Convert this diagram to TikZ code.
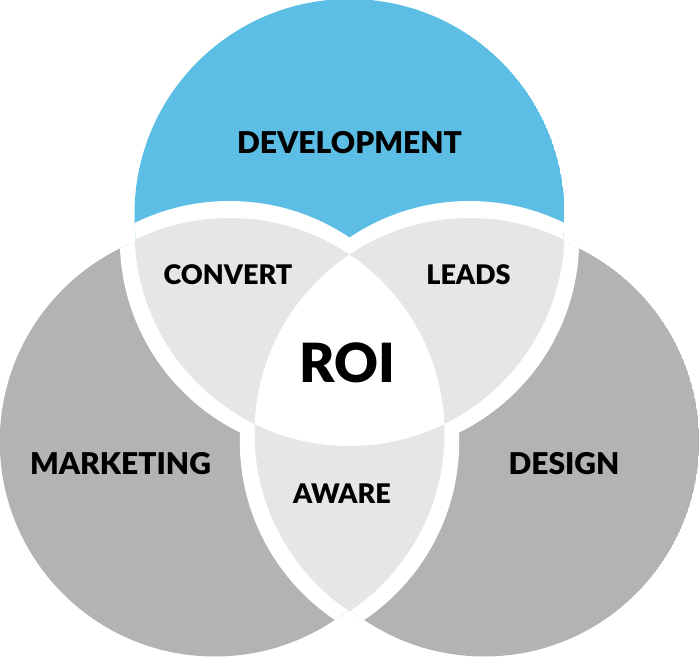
\documentclass[tikz,border=0pt]{standalone}
\usepackage{fontspec}
\setmainfont{Lato}[BoldFont={Lato Black}]
\usepackage{tikz}
\definecolor{devBlue}{RGB}{92,190,228}
\definecolor{areaGray}{RGB}{179,179,179}
\definecolor{lensGray}{RGB}{230,230,230}
\tikzset{
tag/.style = {font=\bfseries\fontsize{#1}{#1}\selectfont, text=black, inner sep=0pt},
tag/.default = 27, % font size in pt
}
\def\rad{215pt}

\begin{document}
\begin{tikzpicture}[x=1pt, y=-1pt]
    \useasboundingbox (0,0) rectangle (699,660);

    % outer areas, pushed out a little
    \begin{scope}[shift={(0,-17)}]
        \clip (349.5,231) circle[radius=\rad];
        \fill[devBlue] (349.5,231) circle[radius=\rad];
        \fill[white] (229.5,433) circle[radius=\rad] (469.5,433) circle[radius=\rad];
    \end{scope}
    \begin{scope}[shift={(-14.7,8.5)}]
        \clip (229.5,433) circle[radius=\rad];
        \fill[areaGray] (229.5,433) circle[radius=\rad];
        \fill[white] (349.5,231) circle[radius=\rad] (469.5,433) circle[radius=\rad];
    \end{scope}
    \begin{scope}[shift={(14.7,8.5)}]
        \clip (469.5,433) circle[radius=\rad];
        \fill[areaGray] (469.5,433) circle[radius=\rad];
        \fill[white] (349.5,231) circle[radius=\rad] (229.5,433) circle[radius=\rad];
    \end{scope}

    % overlaps
    \begin{scope}
        \clip (349.5,231) circle[radius=\rad];
        \fill[lensGray] (229.5,433) circle[radius=\rad] (469.5,433) circle[radius=\rad];
    \end{scope}
    \begin{scope}
        \clip (229.5,433) circle[radius=\rad];
        \fill[lensGray] (469.5,433) circle[radius=\rad];
        \clip (469.5,433) circle[radius=\rad];
        \fill[white] (349.5,231) circle[radius=\rad];
    \end{scope}

    \node[tag=30] (devLabel) at (349.5,142.5) {DEVELOPMENT};
    \node[tag=30] (mktLabel) at (120.5,464) {MARKETING};
    \node[tag=30] (dsgLabel) at (564,464) {DESIGN};
    \node[tag] (convLabel) at (228,274.5) {CONVERT};
    \node[tag] (leadLabel) at (468.5,274.5) {LEADS};
    \node[tag] (awareLabel) at (342,494) {AWARE};
    \node[tag=54] (roiLabel) at (347.5,363) {ROI};
\end{tikzpicture}
\end{document}
